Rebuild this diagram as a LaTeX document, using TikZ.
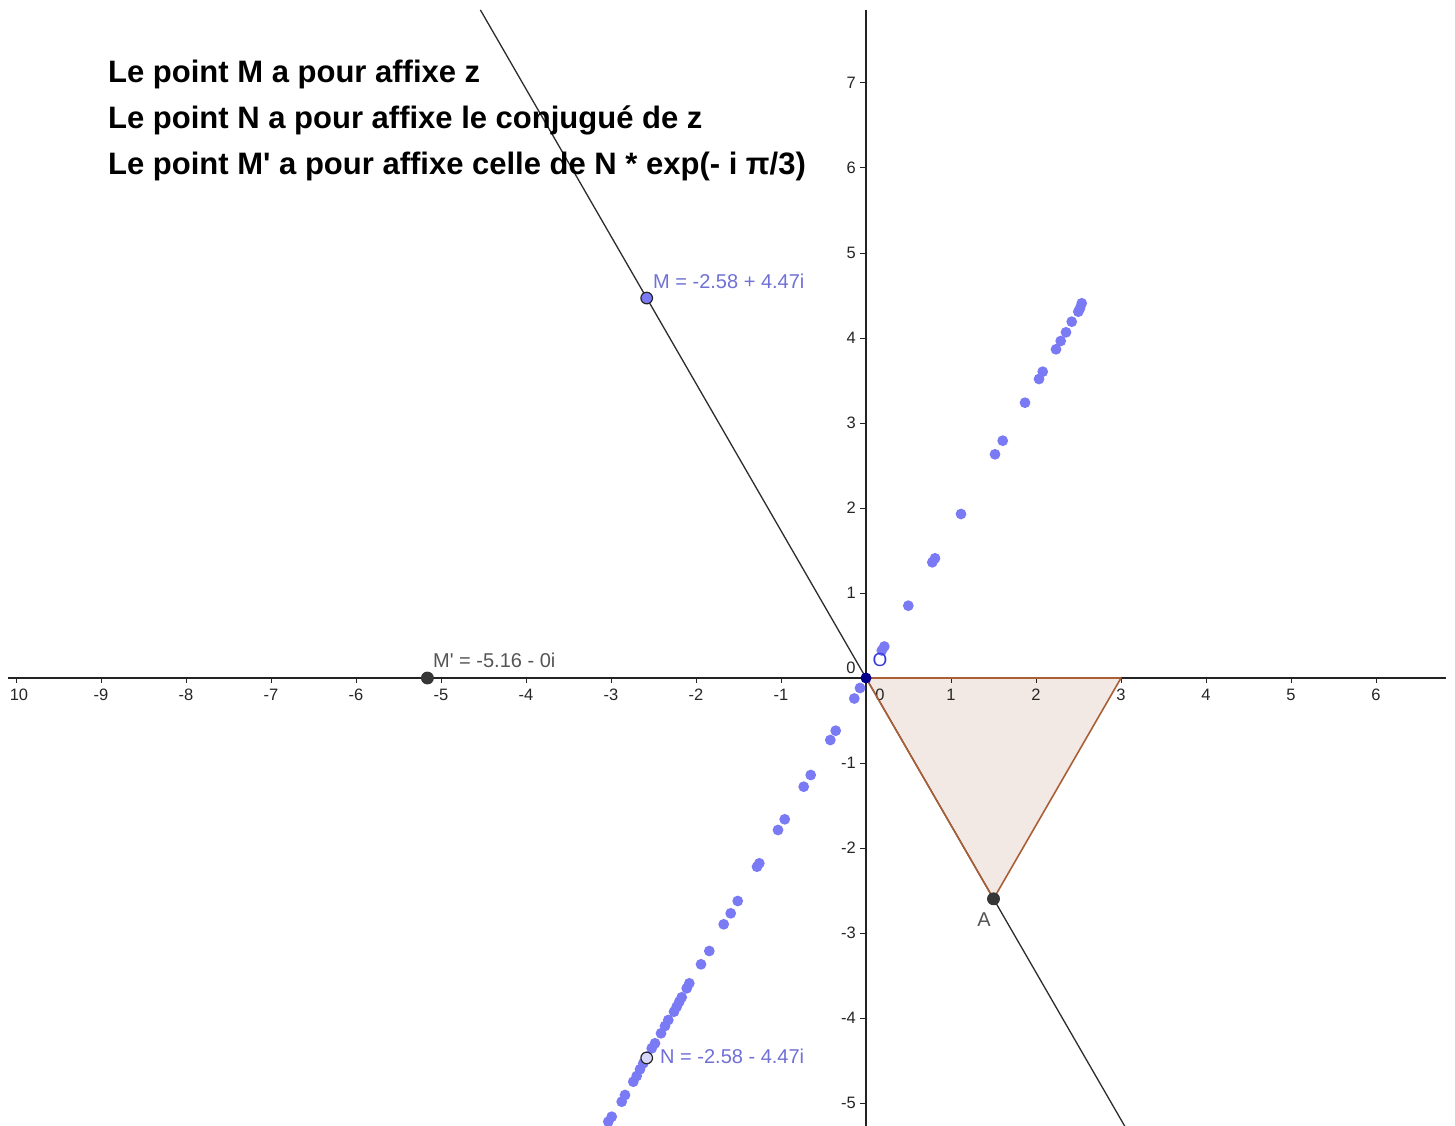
\documentclass[tikz,border=0pt]{standalone}
\usepackage{fontspec}
\setmainfont{Liberation Sans}[Ligatures=TeXOff]
\usetikzlibrary{calc}
\definecolor{ptblue}{RGB}{122,122,245}
\definecolor{lblblue}{RGB}{112,112,215}
\definecolor{tribrown}{RGB}{170,95,55}
\definecolor{trifill}{RGB}{243,233,228}
\definecolor{axisgray}{RGB}{35,35,35}
\definecolor{linegray}{RGB}{45,45,45}
\definecolor{ptgray}{RGB}{55,55,55}
\definecolor{lblgray}{RGB}{85,85,85}
\definecolor{oblue}{RGB}{0,0,140}
\definecolor{olabel}{RGB}{55,55,225}
\tikzset{
  ticklbl/.style={font=\fontsize{16.5}{18}\selectfont, text=black!85, inner sep=0pt},
  ptlbl/.style={font=\fontsize{20}{22}\selectfont, inner sep=0pt, anchor=west},
  bigtxt/.style={font=\fontsize{31}{37}\selectfont\bfseries, inner sep=0pt, anchor=base west},
  tracedot/.style={fill=ptblue},
}
\begin{document}
\begin{tikzpicture}[x=1pt,y=-1pt]
\useasboundingbox (0,0) rectangle (1455,1126);
\fill[white] (0,0) rectangle (1455,1126);
\begin{scope}[shift={(866,678)},x=85pt,y=85pt]
  \coordinate (O) at (0,0);
  \coordinate (B) at (3,0);
  \coordinate (A) at (1.5,-2.598);
  \coordinate (M) at (-2.58,4.47);
  \coordinate (N) at (-2.58,-4.47);
  \coordinate (Mp) at (-5.16,0);
  \coordinate (Ltop) at (-4.537,7.86);
  \coordinate (Lbot) at (3.05,-5.283);
  \coordinate (Xl) at (-10.094,0);
  \coordinate (Xr) at (6.82,0);
  \coordinate (Yt) at (0,7.86);
  \coordinate (Yb) at (0,-5.3);
  % triangle fill
  \fill[trifill] (O) -- (B) -- (A) -- cycle;
  % axes
  \draw[axisgray, line width=1.4pt] (Xl) -- (Xr);
  \draw[axisgray, line width=1.4pt] (Yt) -- (Yb);
  \foreach \i in {-10,...,-1,1,2,...,6} {
    \draw[axisgray, line width=1pt] (\i,0) -- ++(0pt,-5pt);
  }
  \foreach \i in {-9,...,-1,1,2,...,6} {
    \node[ticklbl] at ($(\i,0)+(0pt,-17pt)$) {\i};
  }
  \node[ticklbl] at ($(O)+(14pt,-17pt)$) {0};
  \foreach \j in {-5,...,-1,1,2,...,7} {
    \draw[axisgray, line width=1pt] (0,\j) -- ++(-6pt,0pt);
    \node[ticklbl, anchor=east] at ($(0,\j)+(-10pt,0pt)$) {\j};
  }
  \node[ticklbl] at ($(O)+(-15pt,10pt)$) {0};
  % line through M, O, A
  \draw[linegray, line width=1.3pt] (Ltop) -- (Lbot);
  % triangle edges
  \draw[tribrown, line width=1.6pt, line join=round] (O) -- (B) -- (A) -- cycle;
\end{scope}
\node[ticklbl] (tm10) at (19,695) {10};
% traced points (locus)
\foreach \p in {(1081.7,303.3),(1080,308.3),(1078.3,311.7),(1071.7,321.7),(1066,332.3),(1060.7,341),(1056,349.3),(1042.7,371.7),(1039,379),(1025,402.7),(1002.7,440.7),(995,454.3),(961,514),(935,558.3),(932.3,562.3),(908.3,605.7),(884.3,646.5),(881.8,650.5),
(860,688),(854.3,698.5),(835.7,730.7),(830.3,740),(810.7,775),(803.7,786.7),(784.7,819.3),(778,830),(759.3,863.3),(757,866.7),(737.7,901),(730.7,913.3),(723.7,924.3),
(709.3,951),(701,964.3),(689.3,983.3),(686.7,988.3),(681.7,997.3),(679.3,1001.7),(676.7,1006.7),(674,1011.7),(668.3,1020),(665,1026),(661,1033.3),(655,1043.3),(651.7,1048.3),(646.7,1056.7),(643.3,1063.3),(640,1069.3),(636.7,1076),(633.3,1081.7),(625,1095),(621.7,1101.7),(611.7,1116.7),(608.3,1121.7)} {
  \fill[tracedot] \p circle (5.4pt);
}
% points
\fill[oblue] (O) circle (5.5pt);
\filldraw[fill=ptgray, draw=black!80, line width=0.8pt] (Mp) circle (6pt);
\filldraw[fill=ptgray, draw=black!80, line width=0.8pt] (A) circle (6pt);
\filldraw[fill=ptblue, draw=black!85, line width=1.2pt] (M) circle (5.8pt);
\filldraw[fill=ptblue!30, draw=black!85, line width=1.2pt] (N) circle (5.8pt);
% labels
\node[ptlbl, text=lblblue] (Mlbl) at (653,281) {M = -2.58 + 4.47i};
\node[ptlbl, text=lblblue] (Nlbl) at (660,1056) {N = -2.58 - 4.47i};
\node[ptlbl, text=lblgray] (Mplbl) at (433,660) {M' = -5.16 - 0i};
\node[font=\fontsize{20}{22}\selectfont, text=lblgray, inner sep=0pt] (Albl) at (984,920) {A};
\node[font=\fontsize{19}{21}\selectfont, text=olabel, inner sep=0pt] (Olbl) at (880,660) {O};
% main text
\node[bigtxt] (t1) at (108,83) {Le point M a pour affixe z};
\node[bigtxt] (t2) at (108,129) {Le point N a pour affixe le conjugué de z};
\node[bigtxt] (t3) at (108,175) {Le point M' a pour affixe celle de N * exp(- i π/3)};
\end{tikzpicture}
\end{document}
